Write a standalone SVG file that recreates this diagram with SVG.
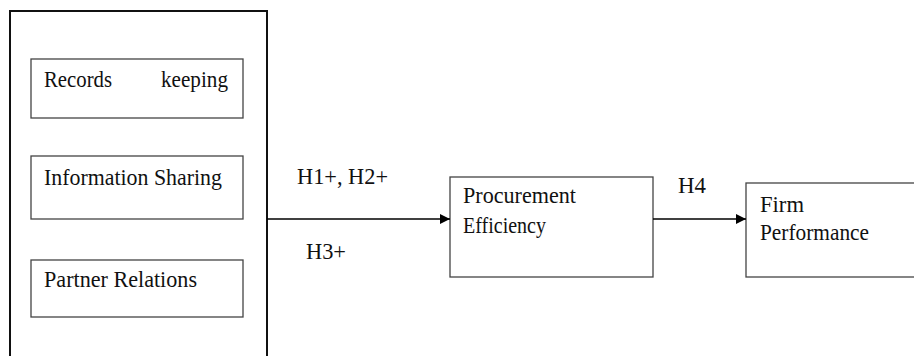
<svg xmlns="http://www.w3.org/2000/svg" width="914" height="356" viewBox="0 0 914 356">
  <defs>
    <marker id="arrow" viewBox="0 0 10 10" refX="10" refY="5" markerWidth="10" markerHeight="10" markerUnits="userSpaceOnUse" orient="auto">
      <path d="M0,0 L10,5 L0,10 Z" fill="#000"/>
    </marker>
  </defs>
  <style>
    .box { fill: #fff; stroke: #444; stroke-width: 1.3; }
    .frame { fill: none; stroke: #111; stroke-width: 2; }
    .lbl { font-family: "Liberation Serif", serif; font-size: 23px; fill: #111; }
    .edge { stroke: #000; stroke-width: 1.3; fill: none; }
  </style>
  <rect width="914" height="356" fill="#fff"/>

  <!-- left frame grouping the three practice boxes -->
  <g id="supply-chain-practices">
    <rect class="frame" x="10" y="11" width="257" height="360"/>
  </g>
  <g id="records-keeping">
    <rect class="box" x="31" y="59" width="212" height="59"/>
    <text class="lbl" x="44" y="87" font-family="Liberation Serif" textLength="68" lengthAdjust="spacingAndGlyphs">Records</text>
    <text class="lbl" x="161" y="87" font-family="Liberation Serif" textLength="67" lengthAdjust="spacingAndGlyphs">keeping</text>
  </g>
  <g id="information-sharing">
    <rect class="box" x="31" y="156" width="212" height="63"/>
    <text class="lbl" x="44" y="185" font-family="Liberation Serif" textLength="178" lengthAdjust="spacingAndGlyphs">Information Sharing</text>
  </g>
  <g id="partner-relations">
    <rect class="box" x="31" y="260" width="212" height="57"/>
    <text class="lbl" x="44" y="287" font-family="Liberation Serif" textLength="153" lengthAdjust="spacingAndGlyphs">Partner Relations</text>
  </g>
  <g id="procurement-efficiency">
    <rect class="box" x="450" y="177" width="203" height="100"/>
    <text class="lbl" x="463" y="203" font-family="Liberation Serif" textLength="113" lengthAdjust="spacingAndGlyphs">Procurement</text>
    <text class="lbl" x="463" y="233" font-family="Liberation Serif" textLength="83" lengthAdjust="spacingAndGlyphs">Efficiency</text>
  </g>
  <g id="firm-performance">
    <rect class="box" x="746" y="183" width="172" height="94"/>
    <text class="lbl" x="760" y="212" font-family="Liberation Serif" textLength="44" lengthAdjust="spacingAndGlyphs">Firm</text>
    <text class="lbl" x="760" y="240" font-family="Liberation Serif" textLength="109" lengthAdjust="spacingAndGlyphs">Performance</text>
  </g>

  <g id="connectors">
    <line class="edge" x1="267" y1="219" x2="450" y2="219" marker-end="url(#arrow)"/>
    <line class="edge" x1="653" y1="219" x2="746" y2="219" marker-end="url(#arrow)"/>
    <text class="lbl" x="297" y="184" font-family="Liberation Serif" textLength="91" lengthAdjust="spacingAndGlyphs">H1+, H2+</text>
    <text class="lbl" x="306" y="259" font-family="Liberation Serif" textLength="40" lengthAdjust="spacingAndGlyphs">H3+</text>
    <text class="lbl" x="678" y="193" font-family="Liberation Serif" textLength="28" lengthAdjust="spacingAndGlyphs">H4</text>
  </g>
</svg>
